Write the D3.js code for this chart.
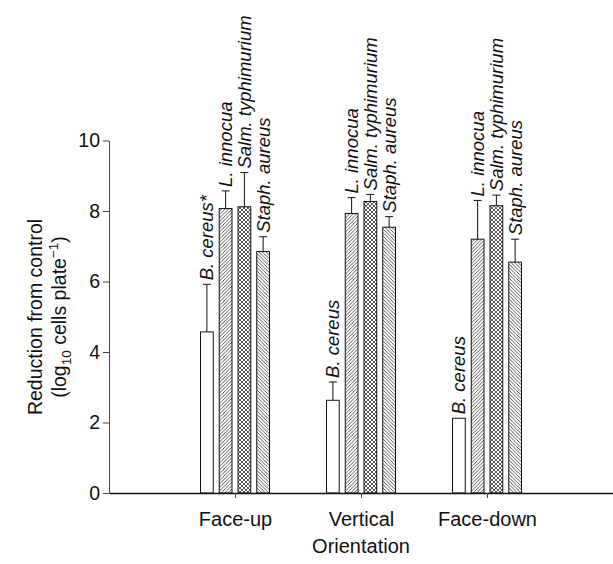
<!DOCTYPE html>
<meta charset="utf-8">
<style>
body { margin: 0; background: #fff; }
text { font-family: "Liberation Sans", Arial, sans-serif; fill: #111; }
.lab { font-style: italic; font-size: 18.5px; }
</style>
<svg width="613" height="564"></svg>
<script src="https://d3js.org/d3.v7.min.js"></script>
<script>

var orientations = ["Face-up", "Vertical", "Face-down"];
var species = ["B. cereus", "L. innocua", "Salm. typhimurium", "Staph. aureus"];
// label shown above each bar (first one has the asterisk)
var labels = [
  ["B. cereus*", "L. innocua", "Salm. typhimurium", "Staph. aureus"],
  ["B. cereus", "L. innocua", "Salm. typhimurium", "Staph. aureus"],
  ["B. cereus", "L. innocua", "Salm. typhimurium", "Staph. aureus"]
];
var means = [
  [4.57, 8.07, 8.12, 6.85],
  [2.63, 7.93, 8.27, 7.54],
  [2.12, 7.20, 8.15, 6.55]
];
var errs = [
  [1.35, 0.50, 0.97, 0.42],
  [0.52, 0.45, 0.20, 0.30],
  [0.00, 1.10, 0.30, 0.65]
];
var yTicks = [0, 2, 4, 6, 8, 10];

var svg = d3.select("svg");

var x = d3.scaleLinear().domain([0, 4]).range([109, 613]);
var y = d3.scaleLinear().domain([0, 10]).range([493, 140.5]);
var inner = d3.scaleBand().domain(species).range([-34.5, 34.5]).paddingInner(0.32).paddingOuter(0);

var defs = svg.append("defs");

function hatch(id, paths, size) {
  var p = defs.append("pattern")
      .attr("id", id)
      .attr("patternUnits", "userSpaceOnUse")
      .attr("width", size)
      .attr("height", size);
  p.append("rect").attr("width", size).attr("height", size).attr("fill", "#fff");
  paths.forEach(function(d) {
    p.append("path").attr("d", d).attr("stroke", "#222").attr("stroke-width", 0.75).attr("fill", "none");
  });
}
hatch("fwd", ["M-1,1 L1,-1 M0,3.5 L3.5,0 M2.5,4.5 L4.5,2.5"], 3.5);
hatch("back", ["M-1,2.5 L1,4.5 M0,0 L3.5,3.5 M2.5,-1 L4.5,1"], 3.5);
hatch("cross", ["M-1,1 L1,-1 M0,4 L4,0 M3,5 L5,3", "M-1,3 L1,5 M0,0 L4,4 M3,-1 L5,1"], 4);

var fills = ["#fff", "url(#fwd)", "url(#cross)", "url(#back)"];

// y axis
var yAxis = svg.append("g")
    .attr("transform", "translate(" + x(0) + ",0)")
    .call(d3.axisLeft(y).tickValues(yTicks).tickSize(6).tickPadding(3).tickSizeOuter(0));
yAxis.select(".domain").attr("stroke", "#444");
yAxis.selectAll(".tick line").attr("stroke", "#444");
yAxis.selectAll(".tick text").style("font-size", "19.5px").attr("fill", "#111");

// bars
orientations.forEach(function(o, gi) {
  var g = svg.append("g");
  species.forEach(function(s, si) {
    var x0 = x(gi + 1) + inner(s);
    var w = inner.bandwidth();
    var cx = x0 + w / 2;
    var top = means[gi][si] + errs[gi][si];
    if (errs[gi][si] > 0) {
      g.append("line").attr("x1", cx).attr("x2", cx)
        .attr("y1", y(means[gi][si])).attr("y2", y(top))
        .attr("stroke", "#111");
      g.append("line").attr("x1", cx - 4).attr("x2", cx + 4)
        .attr("y1", y(top)).attr("y2", y(top))
        .attr("stroke", "#111");
    }
    g.append("rect")
      .attr("x", x0).attr("width", w)
      .attr("y", y(means[gi][si]))
      .attr("height", y(0) - y(means[gi][si]))
      .attr("fill", fills[si])
      .attr("stroke", "#111").attr("stroke-width", 1);
    g.append("text")
      .attr("class", "lab")
      .attr("transform", "translate(" + (cx + 6.5) + "," + (y(top) - 4) + ") rotate(-90)")
      .text(labels[gi][si]);
  });
});

// x axis
var xAxis = svg.append("g")
    .attr("transform", "translate(0," + y(0) + ")")
    .call(d3.axisBottom(x).tickValues([1, 2, 3])
      .tickFormat(function(d) { return orientations[d - 1]; })
      .tickSize(5).tickPadding(14).tickSizeOuter(0));
xAxis.select(".domain").attr("stroke", "#111").attr("stroke-width", 1.6);
xAxis.selectAll(".tick line").attr("stroke", "#444");
xAxis.selectAll(".tick text").style("font-size", "20px").attr("fill", "#111");

svg.append("text")
  .attr("x", x(2)).attr("y", 553)
  .attr("text-anchor", "middle")
  .style("font-size", "20px")
  .text("Orientation");

// y title, two lines
svg.append("text")
  .attr("transform", "translate(42,317) rotate(-90)")
  .attr("text-anchor", "middle")
  .style("font-size", "19.5px")
  .text("Reduction from control");
var t2 = svg.append("text")
  .attr("transform", "translate(66,317) rotate(-90)")
  .attr("text-anchor", "middle")
  .style("font-size", "19.5px");
t2.append("tspan").text("(log");
t2.append("tspan").attr("dy", 5).style("font-size", "13.5px").text("10");
t2.append("tspan").attr("dy", -5).text(" cells plate");
t2.append("tspan").attr("dy", -8).style("font-size", "13.5px").text("\u22121");
t2.append("tspan").attr("dy", 8).text(")");

</script>
